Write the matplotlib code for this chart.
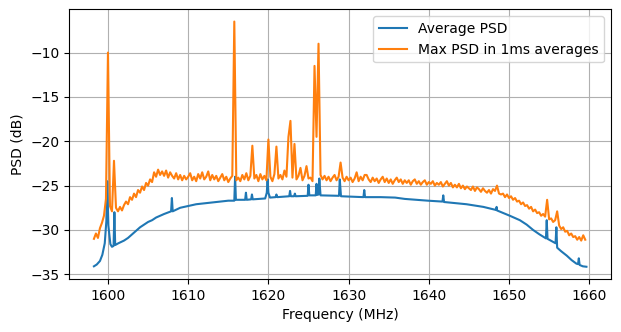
import matplotlib
matplotlib.use("Agg")
import matplotlib.pyplot as plt
import numpy as np

# average PSD, smooth baseline with narrow spurs (MHz, dB)
avg_freq = [1598.25, 1598.6, 1599.0, 1599.3, 1599.6, 1599.8, 1599.9, 1600.05, 1600.3, 1600.5,
            1600.7, 1600.8, 1600.9, 1601.3, 1602.0, 1602.5, 1603.0, 1603.5, 1604.0, 1604.5,
            1605.0, 1605.5, 1606.0, 1607.0, 1607.87, 1607.97, 1608.07, 1609.0, 1610.0, 1611.0,
            1612.0, 1613.0, 1614.0, 1615.0, 1615.75, 1615.85, 1615.95, 1617.1, 1617.2, 1617.3,
            1617.85, 1617.95, 1618.05, 1619.6, 1619.8, 1619.9, 1620.0, 1620.2, 1620.9, 1621.0,
            1621.1, 1622.6, 1622.7, 1622.8, 1623.2, 1623.3, 1623.4, 1624.9, 1625.0, 1625.1,
            1625.9, 1626.0, 1626.1, 1626.25, 1626.35, 1626.5, 1628.8, 1628.9, 1629.05, 1631.85,
            1631.95, 1632.05, 1634.0, 1635.8, 1637.0, 1639.9, 1641.7, 1641.8, 1641.9, 1644.7,
            1646.8, 1648.4, 1648.45, 1648.5, 1650.1, 1651.35, 1652.2, 1653.0, 1653.8, 1654.6,
            1654.7, 1654.8, 1655.8, 1655.9, 1656.0, 1656.5, 1657.2, 1657.8, 1658.4, 1658.6,
            1658.7, 1658.8, 1659.2, 1659.65]
avg_psd = [-34.1, -33.9, -33.5, -32.8, -31.5, -29.0, -24.5, -29.5, -31.6, -31.9,
           -31.8, -28.0, -31.7, -31.5, -31.2, -30.9, -30.5, -30.1, -29.7, -29.4,
           -29.1, -28.9, -28.6, -28.2, -27.9, -26.4, -27.9, -27.5, -27.3, -27.1,
           -27.0, -26.9, -26.8, -26.7, -26.7, -24.0, -26.6, -26.6, -25.8, -26.6,
           -26.55, -26.0, -26.55, -26.45, -25.8, -24.3, -25.8, -26.35, -26.3, -26.0,
           -26.3, -26.2, -25.6, -26.2, -26.2, -25.9, -26.2, -26.15, -24.9, -26.1,
           -26.1, -24.8, -26.05, -26.0, -24.2, -26.1, -26.15, -24.3, -26.2, -26.3,
           -25.5, -26.3, -26.3, -26.35, -26.5, -26.7, -26.8, -26.1, -26.85, -27.1,
           -27.4, -27.75, -27.4, -27.8, -28.4, -28.9, -29.4, -30.0, -30.5, -30.95,
           -28.9, -31.0, -31.5, -29.7, -32.0, -32.4, -32.9, -33.4, -33.8, -33.85,
           -33.2, -33.95, -34.1, -34.15]

# max PSD, sampled every 0.25 MHz from 1598.25 MHz (rows end at whole MHz)
max_start = 1598.25
max_step = 0.25
max_psd = [
    -31.0, -30.4, -30.9, -29.8,  # 1599
    -29.2, -28.4, -26.5, -10.0,  # 1600
    -27.3, -27.9, -22.2, -27.5,  # 1601
    -27.9, -27.4, -27.8, -27.2,  # 1602
    -26.8, -27.1, -26.3, -26.6,  # 1603
    -25.9, -26.3, -25.5, -25.8,  # 1604
    -25.1, -25.5, -24.7, -25.0,  # 1605
    -24.3, -24.6, -23.5, -24.0,  # 1606
    -23.2, -23.8, -23.4, -23.9,  # 1607
    -23.3, -24.1, -23.5, -23.9,  # 1608
    -24.2, -23.6, -24.3, -23.8,  # 1609
    -24.4, -23.9, -24.3, -24.0,  # 1610
    -23.6, -24.4, -24.0, -24.5,  # 1611
    -23.7, -24.2, -23.5, -24.3,  # 1612
    -24.0, -23.4, -24.4, -23.8,  # 1613
    -24.3, -23.9, -24.5, -24.1,  # 1614
    -23.7, -24.4, -24.0, -24.6,  # 1615
    -24.2, -23.9, -6.5, -24.4,   # 1616
    -24.1, -24.5, -23.8, -24.3,  # 1617
    -23.6, -24.4, -23.9, -20.5,  # 1618
    -24.2, -23.8, -24.5, -23.7,  # 1619
    -24.3, -23.9, -24.4, -19.8,  # 1620
    -24.0, -24.5, -23.7, -20.6,  # 1621
    -24.2, -23.8, -24.3, -23.3,  # 1622
    -24.0, -19.5, -17.7, -24.1,  # 1623
    -20.3, -24.3, -23.9, -23.0,  # 1624
    -24.4, -23.9, -22.8, -24.2,  # 1625
    -24.1, -24.5, -11.5, -19.5,  # 1626
    -9.0, -23.8, -24.3, -23.9,   # 1627
    -24.4, -24.0, -24.5, -24.1,  # 1628
    -23.8, -24.4, -24.0, -22.4,  # 1629
    -24.1, -24.5, -24.0, -24.4,  # 1630
    -24.1, -24.6, -24.2, -23.5,  # 1631
    -24.5, -24.0, -24.4, -23.8,  # 1632
    -23.8, -24.3, -24.6, -24.1,  # 1633
    -24.5, -24.2, -24.7, -24.3,  # 1634
    -24.0, -24.6, -24.2, -24.7,  # 1635
    -24.3, -24.8, -24.4, -24.1,  # 1636
    -24.6, -24.3, -24.8, -24.4,  # 1637
    -24.7, -24.4, -24.9, -24.5,  # 1638
    -24.3, -24.8, -24.5, -24.9,  # 1639
    -24.6, -24.4, -24.9, -24.6,  # 1640
    -24.8, -24.5, -25.0, -24.7,  # 1641
    -24.9, -24.6, -25.1, -24.8,  # 1642
    -24.5, -25.0, -24.7, -25.2,  # 1643
    -24.9, -25.2, -24.8, -25.3,  # 1644
    -25.0, -25.4, -25.1, -25.3,  # 1645
    -25.5, -25.1, -25.6, -25.2,  # 1646
    -25.4, -25.7, -25.3, -25.6,  # 1647
    -25.8, -25.5, -25.9, -25.4,  # 1648
    -25.6, -25.0, -25.9, -26.0,  # 1649
    -25.9, -26.3, -26.0, -26.4,  # 1650
    -26.2, -26.6, -26.4, -26.8,  # 1651
    -26.7, -27.1, -26.9, -27.3,  # 1652
    -27.2, -27.6, -27.4, -27.9,  # 1653
    -27.7, -28.1, -28.0, -28.4,  # 1654
    -28.2, -28.5, -26.6, -28.8,  # 1655
    -28.7, -29.1, -28.9, -27.9,  # 1656
    -29.5, -29.9, -29.7, -30.2,  # 1657
    -30.1, -30.6, -30.4, -30.8,  # 1658
    -30.7, -31.1, -30.8, -31.2,  # 1659
    -30.6, -31.1,
]
max_freq = max_start + max_step * np.arange(len(max_psd))

fig = plt.figure(figsize=(6.21, 3.32), dpi=100)
ax = fig.add_subplot(111)
fig.subplots_adjust(left=0.1116, right=0.984, bottom=0.1596, top=0.972)

ax.plot(avg_freq, avg_psd, label='Average PSD')
ax.plot(max_freq, max_psd, label='Max PSD in 1ms averages')
ax.set_xlabel('Frequency (MHz)')
ax.set_ylabel('PSD (dB)')
ax.grid(True)
ax.legend(loc='upper right')

fig.savefig('out.png', dpi=100)
